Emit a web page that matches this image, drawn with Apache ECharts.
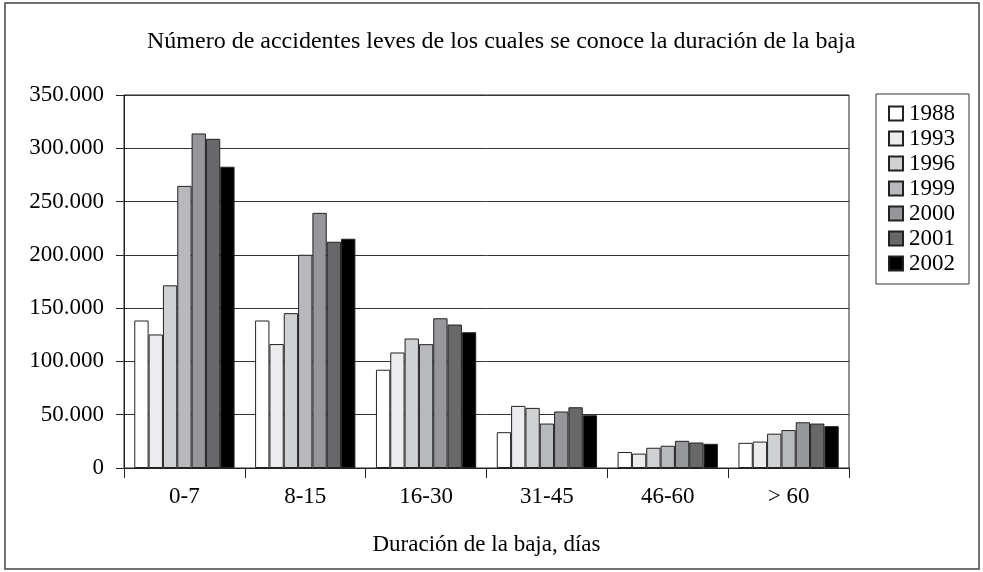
<!DOCTYPE html>
<html>
<head>
<meta charset="utf-8">
<script src="https://cdn.jsdelivr.net/npm/echarts@6/dist/echarts.min.js"></script>
<style>
  html, body { margin: 0; padding: 0; background: #fff; }
  #chart { width: 983px; height: 572px; }
</style>
</head>
<body>
<div id="chart"></div>
<script>
// categorias y valores
const categories = ['0-7', '8-15', '16-30', '31-45', '46-60', '> 60'];
const years = ['1988', '1993', '1996', '1999', '2000', '2001', '2002'];
const v1988 = [138400, 138400, 92200, 33600, 15000, 23600];
const v1993 = [125300, 116300, 108400, 58300, 13500, 24800];
const v1996 = [171400, 145300, 121500, 56400, 19000, 32200];
const v1999 = [264700, 200100, 116200, 41700, 20900, 35600];
const v2000 = [313900, 239400, 140500, 53000, 25500, 42900];
const v2001 = [308900, 212300, 134600, 57000, 23900, 41700];
const v2002 = [282700, 215100, 127400, 49500, 22700, 39300];
const values = [v1988, v1993, v1996, v1999, v2000, v2001, v2002];
const colors = ['#ffffff', '#ececee', '#d0d1d3', '#b8b9bc', '#96979b', '#68686a', '#000000'];

const font = '"Liberation Serif", "DejaVu Serif", serif';

const chart = echarts.init(document.getElementById('chart'));

const option = {
  animation: false,
  textStyle: { fontFamily: font, color: '#000' },
  title: {
    text: 'Número de accidentes leves de los cuales se conoce la duración de la baja',
    left: 142,
    top: 25,
    textStyle: { fontFamily: font, fontSize: 24, fontWeight: 'normal', color: '#000' }
  },
  graphic: [{
    type: 'rect',
    shape: { x: 5, y: 3, width: 974, height: 566 },
    style: { fill: 'none', stroke: '#444', lineWidth: 1.5 },
    silent: true
  }],
  legend: {
    orient: 'vertical',
    left: 876,
    top: 94,
    padding: [8, 14, 9, 12],
    itemGap: 2,
    itemWidth: 14,
    itemHeight: 14,
    borderColor: '#333',
    borderWidth: 1,
    icon: 'rect',
    textStyle: { fontFamily: font, fontSize: 23, color: '#000', padding: [0, 0, 0, 1] },
    data: years
  },
  grid: {
    left: 124,
    right: 134,
    top: 95,
    height: 373,
    show: true,
    borderColor: '#222',
    borderWidth: 1,
    containLabel: false
  },
  xAxis: {
    type: 'category',
    data: categories,
    name: 'Duración de la baja, días',
    nameLocation: 'middle',
    nameGap: 65,
    nameTextStyle: { fontFamily: font, fontSize: 23, color: '#000' },
    axisLine: { lineStyle: { color: '#222', width: 1 } },
    axisTick: { show: true, length: 10, lineStyle: { color: '#222' } },
    axisLabel: { fontFamily: font, fontSize: 23, color: '#000', margin: 17 }
  },
  yAxis: {
    type: 'value',
    min: 0,
    max: 350000,
    interval: 50000,
    axisLine: { show: true, lineStyle: { color: '#222', width: 1 } },
    axisTick: { show: true, length: 8, lineStyle: { color: '#222' } },
    splitLine: { lineStyle: { color: '#333', width: 1 } },
    axisLabel: {
      fontFamily: font, fontSize: 23, color: '#000', margin: 20,
      formatter: function (v) { return v === 0 ? '0' : (v / 1000) + '.000'; }
    }
  },
  series: years.map(function (y, i) {
    return {
      name: y,
      type: 'bar',
      data: values[i],
      barGap: '0%',
      barCategoryGap: '17%',
      itemStyle: { color: colors[i], borderColor: '#222', borderWidth: 1 }
    };
  })
};

chart.setOption(option);
</script>
</body>
</html>
